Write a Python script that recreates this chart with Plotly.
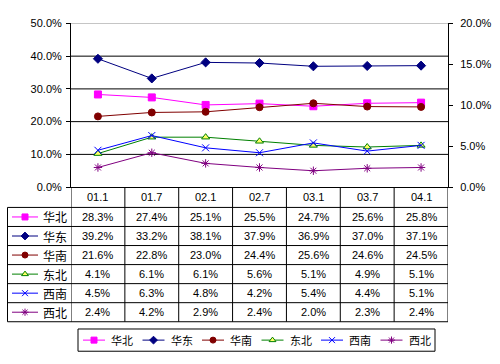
import plotly.graph_objects as go

periods = ["01.1", "01.7", "02.1", "02.7", "03.1", "03.7", "04.1"]
regions = ["华北", "华东", "华南", "东北", "西南", "西北"]
huabei = [28.3, 27.4, 25.1, 25.5, 24.7, 25.6, 25.8]
huadong = [39.2, 33.2, 38.1, 37.9, 36.9, 37.0, 37.1]
huanan = [21.6, 22.8, 23.0, 24.4, 25.6, 24.6, 24.5]
dongbei = [4.1, 6.1, 6.1, 5.6, 5.1, 4.9, 5.1]
xinan = [4.5, 6.3, 4.8, 4.2, 5.4, 4.4, 5.1]
xibei = [2.4, 4.2, 2.9, 2.4, 2.0, 2.3, 2.4]
left_ticks = [0, 0.1, 0.2, 0.3, 0.4, 0.5]
right_ticks = [0, 0.05, 0.1, 0.15, 0.2]

series = [huabei, huadong, huanan, dongbei, xinan, xibei]
axes_of = ["y", "y", "y", "y2", "y2", "y2"]
line_colors = ["#FF00FF", "#000080", "#800000", "#008000", "#0000FF", "#800080"]
marker_fill = ["#FF00FF", "#000080", "#800000", "#FFFF66", "#0000FF", "#800080"]
symbols = ["square", "diamond", "circle", "triangle-up", "x-thin-open", "asterisk-open"]
msizes = [7, 7, 7, 7, 7, 7]

W, H = 500, 364
FONT = "Liberation Sans, Arial, Noto Sans CJK SC"
CJK = "Noto Sans CJK SC"


def py(v):
    return 1 - v / H


def px(v):
    return v / W


plot_l, plot_r, plot_t, plot_b = 71, 448, 18, 187.3
header_bottom = 208.3
row_h = 19.7
table_left = 7.5
leg_l, leg_r, leg_t, leg_b = 78, 435, 334, 357
leg_x0, leg_step = 83, 59.5

fig = go.Figure()

for i, name in enumerate(regions):
    fig.add_trace(go.Scatter(
        x=periods, y=[v / 100 for v in series[i]], name=name, yaxis=axes_of[i],
        mode="lines+markers",
        line=dict(color=line_colors[i], width=1),
        marker=dict(symbol=symbols[i], size=msizes[i], color=marker_fill[i],
                    line=dict(color=line_colors[i], width=1)),
        cliponaxis=False, showlegend=False,
    ))

annotations = []

# key column glyphs in the table and the bottom legend (pixel overlay axes)
for i, name in enumerate(regions):
    yc = header_bottom + row_h * (i + 0.5)
    lx = leg_x0 + leg_step * i
    ly = (leg_t + leg_b) / 2
    for (xa, xb, xm, yy, ms) in [(12, 38, 25, yc, msizes[i] - 1), (lx, lx + 22, lx + 11, ly, msizes[i] - 1)]:
        fig.add_trace(go.Scatter(
            x=[xa, xb], y=[yy, yy], xaxis="x2", yaxis="y3", mode="lines",
            line=dict(color=line_colors[i], width=1), showlegend=False, hoverinfo="skip"))
        fig.add_trace(go.Scatter(
            x=[xm], y=[yy], xaxis="x2", yaxis="y3", mode="markers",
            marker=dict(symbol=symbols[i], size=ms, color=marker_fill[i],
                        line=dict(color=line_colors[i], width=1)),
            showlegend=False, hoverinfo="skip"))
    annotations.append(dict(x=px(lx + 26), xref="paper", y=py(ly), yref="paper", text=name,
                            showarrow=False, font=dict(family=CJK, size=11, color="black"),
                            xanchor="left", yanchor="middle"))

shapes = []
for t in left_ticks[1:-1]:
    shapes.append(dict(type="line", xref="x domain", yref="y", x0=0, x1=1, y0=t, y1=t,
                       line=dict(color="black", width=1), layer="below"))
shapes.append(dict(type="line", xref="x domain", yref="y", x0=0, x1=1, y0=0.5, y1=0.5,
                   line=dict(color="#808080", width=1), layer="below"))

for k in range(7):
    yv = header_bottom + row_h * k
    shapes.append(dict(type="line", xref="paper", yref="paper", x0=px(table_left), x1=px(plot_r),
                       y0=py(yv), y1=py(yv), line=dict(color="black", width=1)))
table_bottom = header_bottom + row_h * 6
for k in range(len(periods) + 1):
    shapes.append(dict(type="line", xref="x", yref="paper", x0=k - 0.5, x1=k - 0.5,
                       y0=py(plot_b), y1=py(table_bottom), line=dict(color="black", width=1)))
shapes.append(dict(type="line", xref="paper", yref="paper", x0=px(table_left), x1=px(table_left),
                   y0=py(header_bottom), y1=py(table_bottom), line=dict(color="black", width=1)))
# legend box
shapes.append(dict(type="rect", xref="paper", yref="paper", x0=px(leg_l), x1=px(leg_r),
                   y0=py(leg_b), y1=py(leg_t), line=dict(color="black", width=1), layer="below"))

for j, p in enumerate(periods):
    annotations.append(dict(x=j, xref="x", y=py((plot_b + header_bottom) / 2), yref="paper",
                            text=p, showarrow=False, font=dict(family=FONT, size=11, color="black"),
                            xanchor="center", yanchor="middle"))
for i, name in enumerate(regions):
    yc = py(header_bottom + row_h * (i + 0.5))
    annotations.append(dict(x=px(41), xref="paper", y=yc, yref="paper", text=name, showarrow=False,
                            font=dict(family=CJK, size=12, color="black"),
                            xanchor="left", yanchor="middle"))
    for j, p in enumerate(periods):
        annotations.append(dict(x=j, xref="x", y=yc, yref="paper", text=f"{series[i][j]:.1f}%",
                                showarrow=False, font=dict(family=FONT, size=11, color="black"),
                                xanchor="center", yanchor="middle"))

fig.update_layout(
    width=W, height=H, margin=dict(l=0, r=0, t=0, b=0),
    paper_bgcolor="white", plot_bgcolor="rgba(0,0,0,0)",
    font=dict(family=FONT, size=11, color="black"),
    xaxis=dict(domain=[px(plot_l), px(plot_r)], range=[-0.5, 6.5], type="category",
               categoryorder="array", categoryarray=periods,
               showticklabels=False, showgrid=False, zeroline=False,
               showline=True, linecolor="black", linewidth=1, ticks="", anchor="y"),
    yaxis=dict(domain=[py(plot_b), py(plot_t)], range=[0, 0.5], tickvals=left_ticks,
               tickformat=".1%", showgrid=False, zeroline=False, showline=True,
               linecolor="black", linewidth=1, ticks="outside", ticklen=4, tickcolor="black",
               ticklabelstandoff=2, tickfont=dict(family=FONT, size=11), anchor="x"),
    yaxis2=dict(overlaying="y", side="right", range=[0, 0.2], tickvals=right_ticks,
                tickformat=".1%", showgrid=False, zeroline=False, showline=True,
                linecolor="black", linewidth=1, ticks="outside", ticklen=4, tickcolor="black",
                ticklabelstandoff=5, tickfont=dict(family=FONT, size=11), anchor="x"),
    xaxis2=dict(domain=[0, 1], range=[0, W], visible=False, anchor="y3", fixedrange=True),
    yaxis3=dict(domain=[0, 1], range=[H, 0], visible=False, anchor="x2", fixedrange=True),
    shapes=shapes, annotations=annotations,
    showlegend=False,
)

fig.write_html("out.html", config={"displayModeBar": False},
               post_script="document.body.style.margin='0';")
